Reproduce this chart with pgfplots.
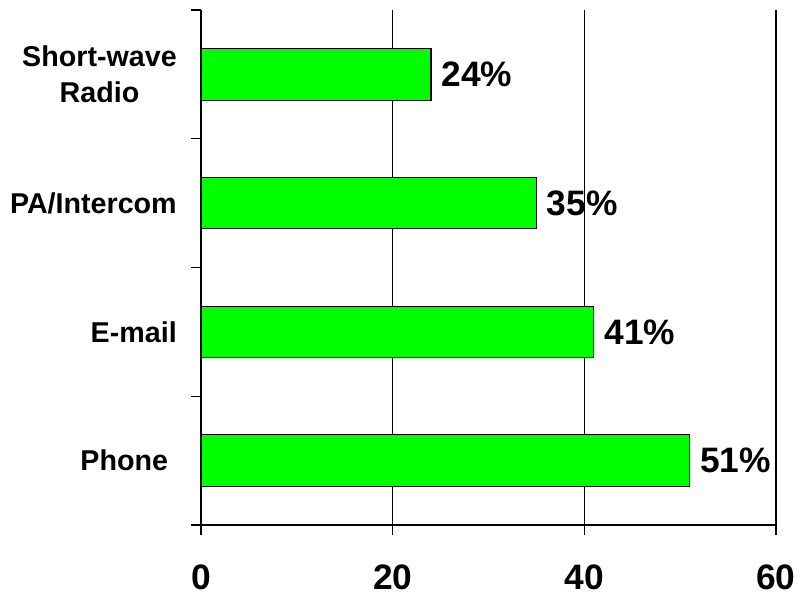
\documentclass[border=0pt]{standalone}
\usepackage{pgfplots}
\pgfplotsset{compat=1.18}
\usepackage{fontspec}
\setmainfont{Liberation Sans}
\definecolor{bargreen}{RGB}{0,255,0}
\begin{document}
\begin{tikzpicture}
\begin{axis}[
  name=main,
  xbar, bar width=0.4,
  scale only axis, width=431.25pt, height=386.25pt,
  xmin=0, xmax=60, ymin=-0.5, ymax=3.5,
  axis x line=bottom, axis y line=left,
  axis line style={-, line width=1pt, black},
  xtick={0,20,40,60},
  xmajorgrids, grid style={black, line width=0.8pt},
  tick align=outside, major tick length=7.5pt,
  tick style={black, line width=1pt},
  ytick={-0.5,0.5,1.5,2.5,3.5}, yticklabels={},
  extra y ticks={0,1,2,3},
  extra y tick labels={Phone\hspace{6.5pt}, E-mail, PA/Intercom, {Short-wave\\Radio}},
  extra y tick style={major tick length=0pt},
  yticklabel style={font=\bfseries\fontsize{21.5}{26.8}\selectfont, align=center, anchor=east, inner sep=0pt, xshift=-18pt},
  xticklabel style={font=\bfseries\fontsize{26.5}{30}\selectfont, anchor=north, inner sep=0pt, yshift=-22pt},
  /pgf/number format/assume math mode=true,
  nodes near coords={\pgfmathprintnumber{\pgfplotspointmeta}\%},
  point meta=x,
  every node near coord/.append style={font=\bfseries\fontsize{26.5}{30}\selectfont, anchor=west, inner sep=0pt, xshift=7.5pt, black},
]
\addplot[fill=bargreen, draw=black, line width=0.8pt]
  coordinates {(51,0) (41,1) (35,2) (24,3)};
\end{axis}
\pgfresetboundingbox
\path[use as bounding box] ([shift={(-150.75pt,-54.75pt)}]main.south west) rectangle ([shift={(18pt,7.5pt)}]main.north east);
\end{tikzpicture}
\end{document}
